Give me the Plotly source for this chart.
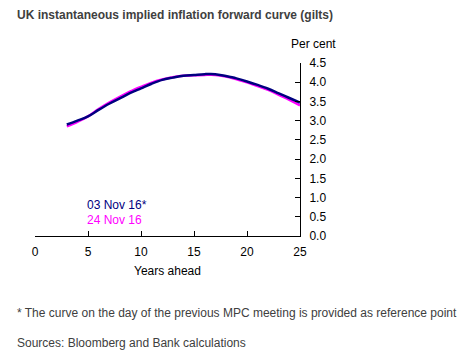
import plotly.graph_objects as go

years = [3, 4, 5, 6, 7, 8, 9, 10, 11, 12, 13, 14, 15, 16, 17, 18, 19, 20, 21, 22, 23, 24, 25]
nov03 = [2.90, 3.00, 3.11, 3.28, 3.44, 3.58, 3.72, 3.84, 3.96, 4.06, 4.12, 4.17, 4.19, 4.21, 4.21,
         4.16, 4.10, 4.02, 3.93, 3.83, 3.71, 3.59, 3.47]
nov24 = [2.85, 2.97, 3.11, 3.30, 3.47, 3.62, 3.76, 3.88, 3.99, 4.07, 4.13, 4.17, 4.18, 4.19, 4.19,
         4.15, 4.08, 4.00, 3.90, 3.80, 3.67, 3.54, 3.40]
x_ticks = [0, 5, 10, 15, 20, 25]
y_ticks = [0.0, 0.5, 1.0, 1.5, 2.0, 2.5, 3.0, 3.5, 4.0, 4.5]

FONT = "Liberation Sans, Arial, sans-serif"
NAVY = "#000080"
MAGENTA = "#FF00FF"

fig = go.Figure()
fig.add_trace(go.Scatter(x=years, y=nov24, mode="lines", line=dict(color=MAGENTA, width=2.5),
                         name="24 Nov 16", line_shape="spline"))
fig.add_trace(go.Scatter(x=years, y=nov03, mode="lines", line=dict(color=NAVY, width=2.5),
                         name="03 Nov 16*", line_shape="spline"))

# page body has an 8px margin, so the figure is 467x353 and offset by 8px
fig.update_layout(
    width=467, height=353,
    margin=dict(l=27, r=175, t=55, b=125, autoexpand=False),
    paper_bgcolor="white", plot_bgcolor="white",
    showlegend=False,
    font=dict(family=FONT, size=12, color="black"),
    xaxis=dict(range=[0, 25], tickvals=x_ticks, ticktext=[str(v) for v in x_ticks],
               ticks="inside", ticklen=5, tickcolor="black", showline=True, linecolor="black",
               linewidth=1, showgrid=False, zeroline=False, automargin=False,
               ticklabelstandoff=5,
               title=dict(text="Years ahead", standoff=8, font=dict(size=12)),
               tickfont=dict(size=12)),
    yaxis=dict(range=[0, 4.5], tickvals=y_ticks, ticktext=[f"{v:.1f}" for v in y_ticks],
               side="right", ticks="inside", ticklen=5, tickcolor="black", showline=True,
               linecolor="black", linewidth=1, showgrid=False, zeroline=False, automargin=False,
               ticklabelstandoff=6, tickfont=dict(size=12)),
)

fig.add_annotation(text="<b>UK instantaneous implied inflation forward curve (gilts)</b>",
                   xref="paper", yref="paper", x=-20/265, y=1 + 48/173, xanchor="left", yanchor="middle",
                   showarrow=False, font=dict(size=12, color="#404040", family=FONT))
fig.add_annotation(text="Per cent", xref="paper", yref="paper", x=1.05, y=1 + 19/173,
                   xanchor="center", yanchor="middle", showarrow=False,
                   font=dict(size=12, color="black", family=FONT))
fig.add_annotation(text="03 Nov 16*", xref="paper", yref="paper", x=50/265, y=(236 - 205)/173,
                   xanchor="left", yanchor="middle", showarrow=False,
                   font=dict(size=12, color=NAVY, family=FONT))
fig.add_annotation(text="24 Nov 16", xref="paper", yref="paper", x=50/265, y=(236 - 220)/173,
                   xanchor="left", yanchor="middle", showarrow=False,
                   font=dict(size=12, color=MAGENTA, family=FONT))
fig.add_annotation(text="* The curve on the day of the previous MPC meeting is provided as reference point",
                   xref="paper", yref="paper", x=-20/265, y=-(313 - 236)/173, xanchor="left", yanchor="middle",
                   showarrow=False, font=dict(size=12, color="#404040", family=FONT))
fig.add_annotation(text="Sources: Bloomberg and Bank calculations",
                   xref="paper", yref="paper", x=-20/265, y=-(343 - 236)/173, xanchor="left", yanchor="middle",
                   showarrow=False, font=dict(size=12, color="#404040", family=FONT))

fig.write_html("out.html")
